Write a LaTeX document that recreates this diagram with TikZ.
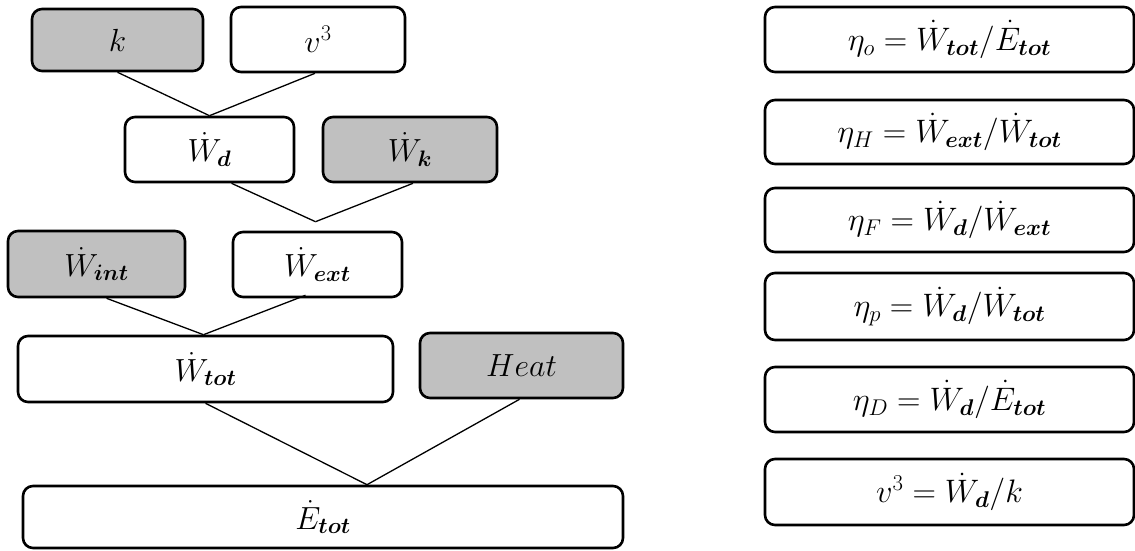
\RequirePackage{fix-cm}
\documentclass[tikz,border=0pt]{standalone}
\usepackage{amsmath}
\usepackage{bm}
\usetikzlibrary{calc}
\definecolor{boxgray}{RGB}{192,192,192}
\begin{document}
\begin{tikzpicture}[x=1pt,y=-1pt,
  box/.style={draw=black,line width=2.6pt,rounded corners=10pt,fill=white,
    inner sep=0pt,font=\fontsize{32}{36}\selectfont},
  graybox/.style={box,fill=boxgray},
  eqbox/.style={box,font=\fontsize{32.5}{36}\selectfont},
  link/.style={draw=black,line width=1.3pt}]
\path[use as bounding box] (0,0) rectangle (1135,551);
\clip (0,0) rectangle (1135,551);
% left tree
\node[graybox,minimum width=171pt,minimum height=62pt] (k) at (117.5,40) {$k$};
\node[box,minimum width=174pt,minimum height=65pt] (v3) at (318,39.5) {$v^3$};
\node[box,minimum width=169pt,minimum height=65pt] (Wd) at (209.5,149.5) {$\dot{W}_{\bm{d}}$};
\node[graybox,minimum width=174pt,minimum height=65pt] (Wk) at (410,149.5) {$\dot{W}_{\bm{k}}$};
\node[graybox,minimum width=177pt,minimum height=66pt] (Wint) at (96.5,264) {$\dot{W}_{\bm{int}}$};
\node[box,minimum width=169pt,minimum height=65pt] (Wext) at (317.5,264.5) {$\dot{W}_{\bm{ext}}$};
\node[box,minimum width=375pt,minimum height=66pt] (Wtot) at (205.5,369) {$\dot{W}_{\bm{tot}}$};
\node[graybox,minimum width=203pt,minimum height=65pt] (Heat) at (521.5,365.5) {$Heat$};
\node[box,minimum width=600pt,minimum height=62pt] (Etot) at (323,517) {$\dot{E}_{\bm{tot}}$};
\coordinate (J1) at ($(Wext.north)+(-2,-9)$);
% connectors
\draw[link] (k.south) -- (Wd.north);
\draw[link] ($(v3.south)+(-3,0)$) -- (Wd.north);
\draw[link] ($(Wd.south)+(22,0)$) -- (J1);
\draw[link] ($(Wk.south)+(3,0)$) -- (J1);
\draw[link] ($(Wint.south)+(10,0)$) -- ($(Wtot.north)+(-2,0)$);
\draw[link] ($(Wext.south)+(-12,-3)$) -- ($(Wtot.north)+(-2,0)$);
\draw[link] (Wtot.south) -- ($(Etot.north)+(44,0)$);
\draw[link] ($(Heat.south)+(-2,0)$) -- ($(Etot.north)+(44,0)$);
% right equations
\node[eqbox,minimum width=369pt,minimum height=65pt] (e1) at (949.5,39.5) {$\eta_o=\dot{W}_{\bm{tot}}/\dot{E}_{\bm{tot}}$};
\node[eqbox,minimum width=369pt,minimum height=64pt] (e2) at (949.5,132) {$\eta_H=\dot{W}_{\bm{ext}}/\dot{W}_{\bm{tot}}$};
\node[eqbox,minimum width=369pt,minimum height=64pt] (e3) at (949.5,220) {$\eta_F=\dot{W}_{\bm{d}}/\dot{W}_{\bm{ext}}$};
\node[eqbox,minimum width=369pt,minimum height=67pt] (e4) at (949.5,306.5) {$\eta_p=\dot{W}_{\bm{d}}/\dot{W}_{\bm{tot}}$};
\node[eqbox,minimum width=369pt,minimum height=65pt] (e5) at (949.5,399.5) {$\eta_D=\dot{W}_{\bm{d}}/\dot{E}_{\bm{tot}}$};
\node[eqbox,minimum width=369pt,minimum height=66pt] (e6) at (949.5,492) {$v^3=\dot{W}_{\bm{d}}/k$};
\end{tikzpicture}
\end{document}
